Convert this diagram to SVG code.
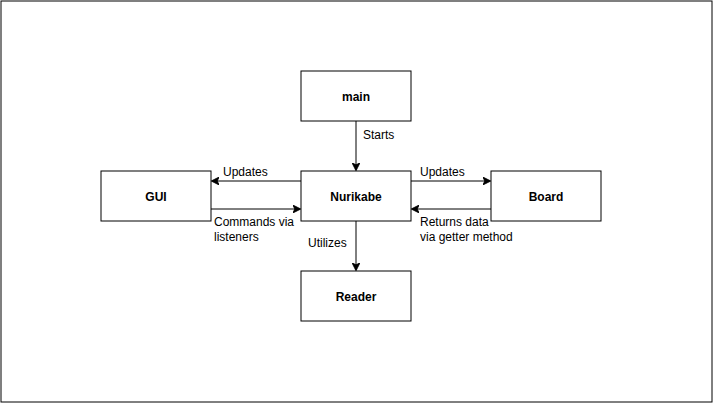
<svg xmlns="http://www.w3.org/2000/svg" width="713" height="403" viewBox="0 0 713 403">
<defs>
<style>
.node rect{fill:#fff;stroke:#000;stroke-width:1}
.node text{font-family:"Liberation Sans",Arial,sans-serif;font-size:12px;font-weight:bold;text-anchor:middle;dominant-baseline:central;fill:#000}
.edges path{fill:none;stroke:#000;stroke-width:1}
.lbl{font-family:"Liberation Sans",Arial,sans-serif;font-size:12px;fill:#000}
</style>
<marker id="arr" viewBox="0 0 10 10" refX="9" refY="5" markerWidth="8" markerHeight="8" markerUnits="userSpaceOnUse" orient="auto">
<path d="M0,0 L10,5 L0,10 L2.5,5 Z" fill="#000" stroke="#000" stroke-width="1"/>
</marker>
</defs>
<rect x="1" y="1" width="711" height="401" fill="#fff" stroke="#000" stroke-width="1"/>
<g class="edges">
<path d="M356,121 V170" marker-end="url(#arr)"/>
<path d="M301,181 H212" marker-end="url(#arr)"/>
<path d="M211,209 H300" marker-end="url(#arr)"/>
<path d="M411,181 H490" marker-end="url(#arr)"/>
<path d="M491,209 H412" marker-end="url(#arr)"/>
<path d="M356,221 V270" marker-end="url(#arr)"/>
</g>
<g class="lbl">
<text x="363" y="138.5">Starts</text>
<text x="223" y="175.5">Updates</text>
<text x="420" y="175.5">Updates</text>
<text x="214" y="225.5">Commands via</text>
<text x="214" y="240.5">listeners</text>
<text x="420" y="225.5">Returns data</text>
<text x="420" y="240.5">via getter method</text>
<text x="308" y="246.5">Utilizes</text>
</g>
<g id="main" class="node"><rect x="301" y="71" width="110" height="50"/><text x="356" y="97">main</text></g>
<g id="nurikabe" class="node"><rect x="301" y="171" width="110" height="50"/><text x="356" y="197">Nurikabe</text></g>
<g id="gui" class="node"><rect x="101" y="171" width="110" height="50"/><text x="156" y="197">GUI</text></g>
<g id="board" class="node"><rect x="491" y="171" width="110" height="50"/><text x="546" y="197">Board</text></g>
<g id="reader" class="node"><rect x="301" y="271" width="110" height="50"/><text x="356" y="297">Reader</text></g>
</svg>
